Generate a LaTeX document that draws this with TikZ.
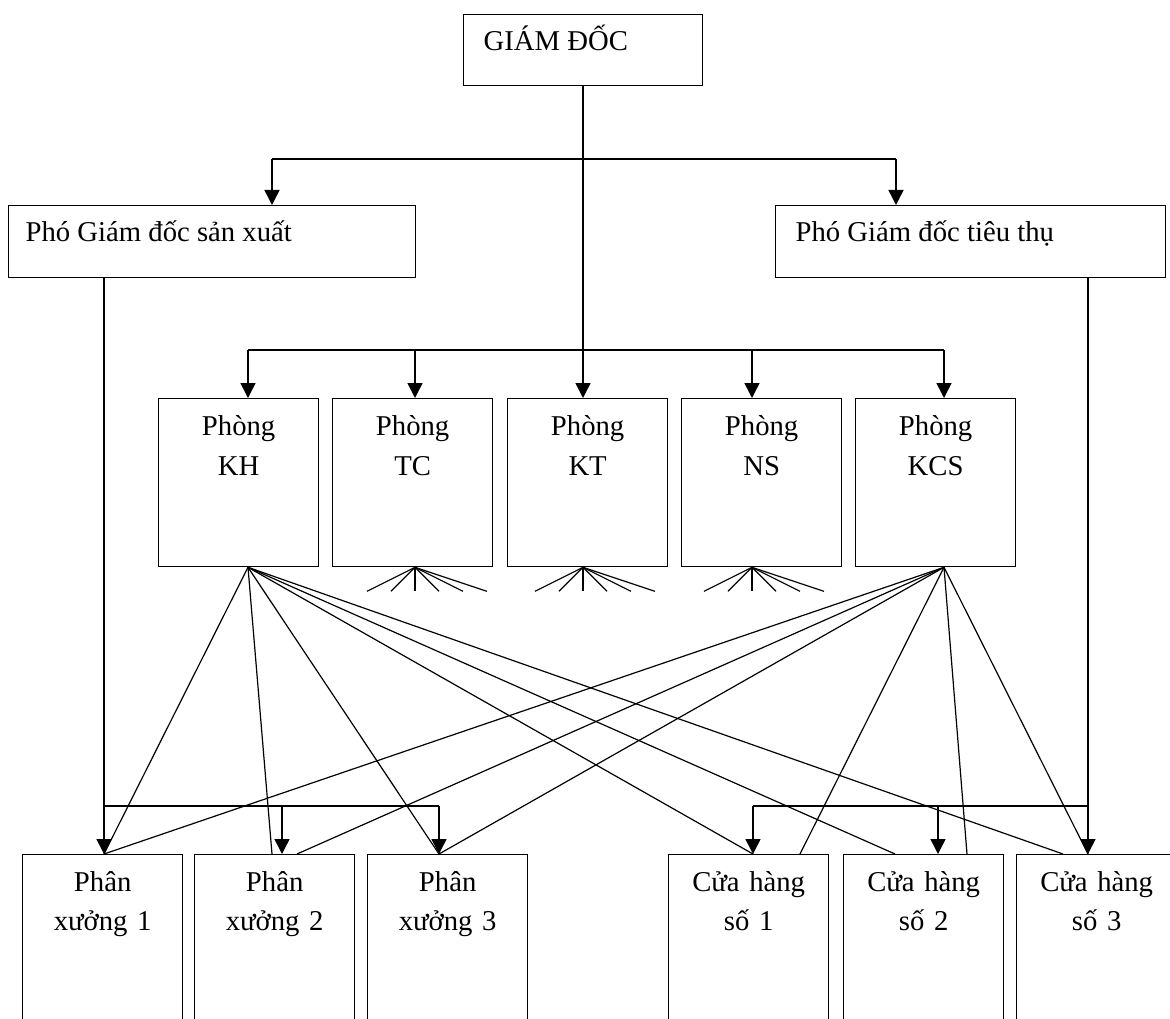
\documentclass[tikz,border=0pt]{standalone}
\usepackage{fontspec}
\setmainfont{Liberation Serif}
\usetikzlibrary{arrows.meta}

\tikzset{
  hop/.style={draw, line width=1.3pt, anchor=north west, inner sep=0pt,
    font=\fontsize{28.7}{40}\selectfont},
  phong/.style={hop, text width=160pt, align=center, text height=37pt, text depth=131pt},
  donvi/.style={hop, text width=160pt, align=center, text height=37pt, text depth=230pt,
    font=\fontsize{28.7}{39}\selectfont},
  pgd/.style={hop, align=flush left, text height=36pt, text depth=36pt},
  bus/.style={line width=1.5pt},
  arr/.style={line width=1.5pt, -{Triangle[length=15pt,width=15pt]}},
  lien/.style={line width=1.2pt}
}

\begin{document}
\begin{tikzpicture}[x=1pt,y=-1pt]
            \useasboundingbox (0,0) rectangle (1170,1019);
            \clip (0,0) rectangle (1170,1019);

            %giam doc va hai pho giam doc
            \node[pgd, inner xsep=20pt, text width=199pt, text depth=35pt] (gd) at (463,14) {GIÁM ĐỐC};
            \node[pgd, inner xsep=17pt, text width=373pt] (vpsx) at (8,205) {Phó Giám đốc sản xuất};
            \node[pgd, inner xsep=20pt, text width=350pt] (vptt) at (775,205) {Phó Giám đốc tiêu thụ};

            %cac phong ban
            \node[phong] (kh) at (158,398) {Phòng\\KH};
            \node[phong] (tc) at (332,398) {Phòng\\TC};
            \node[phong] (kt) at (507,398) {Phòng\\KT};
            \node[phong] (ns) at (681,398) {Phòng\\NS};
            \node[phong] (kcs) at (855,398) {Phòng\\KCS};

            %phan xuong va cua hang
            \node[donvi] (px1) at (22,854) {Phân\\xưởng 1};
            \node[donvi] (px2) at (194,854) {Phân\\xưởng 2};
            \node[donvi] (px3) at (367,854) {Phân\\xưởng 3};
            \node[donvi] (ch1) at (668,854) {Cửa hàng\\số 1};
            \node[donvi] (ch2) at (843,854) {Cửa hàng\\số 2};
            \node[donvi] (ch3) at (1016,854) {Cửa hàng\\số 3};

            %diem re nhanh
            \coordinate (t1) at (272,159);
            \coordinate (t2) at (896,159);
            \coordinate (pKH) at (248,350);
            \coordinate (pTC) at (415,350);
            \coordinate (pKT) at (583,350);
            \coordinate (pNS) at (752,350);
            \coordinate (pKCS) at (944,350);
            \coordinate (b1) at (104,806);
            \coordinate (b2) at (282,806);
            \coordinate (b3) at (439,806);
            \coordinate (c1) at (753,806);
            \coordinate (c2) at (938,806);
            \coordinate (c3) at (1088,806);

            %giam doc xuong
            \draw[bus] (t1) -- (t2);
            \draw[arr] (t1) -- (t1 |- vpsx.north);
            \draw[arr] (t2) -- (t2 |- vptt.north);
            \draw[arr] (gd.south -| pKT) -- (pKT |- kt.north);
            \draw[bus] (pKH) -- (pKCS);
            \foreach \p/\b in {pKH/kh,pTC/tc,pNS/ns,pKCS/kcs}
              \draw[arr] (\p) -- (\p |- \b.north);

            %pho giam doc xuong don vi
            \draw[arr] (vpsx.south -| b1) -- (b1 |- px1.north);
            \draw[bus] (b1) -- (b3);
            \draw[arr] (b2) -- (b2 |- px2.north);
            \draw[arr] (b3) -- (b3 |- px3.north);
            \draw[arr] (vptt.south -| c3) -- (c3 |- ch3.north);
            \draw[bus] (c1) -- (c3);
            \draw[arr] (c1) -- (c1 |- ch1.north);
            \draw[arr] (c2) -- (c2 |- ch2.north);

            %cac duong lien he
            \coordinate (oKH) at (pKH |- kh.south);
            \coordinate (oTC) at (pTC |- tc.south);
            \coordinate (oKT) at (pKT |- kt.south);
            \coordinate (oNS) at (pNS |- ns.south);
            \coordinate (oKCS) at (pKCS |- kcs.south);
            \foreach \t in {(b1 |- px1.north), ([xshift=78pt]px2.north west), (b3 |- px3.north),
                            (c1 |- ch1.north), ([xshift=52pt]ch2.north west), ([xshift=47pt]ch3.north west)}
              \draw[lien] (oKH) -- \t;
            \foreach \t in {(b1 |- px1.north), ([xshift=103pt]px2.north west), (b3 |- px3.north),
                            ([xshift=132pt]ch1.north west), ([xshift=124pt]ch2.north west), (c3 |- ch3.north)}
              \draw[lien] (oKCS) -- \t;
            \foreach \o in {oTC,oKT,oNS}
              \foreach \d in {-48,-24,0,24,48,72}
                \draw[lien] (\o) -- ++(\d,24);
\end{tikzpicture}
\end{document}
